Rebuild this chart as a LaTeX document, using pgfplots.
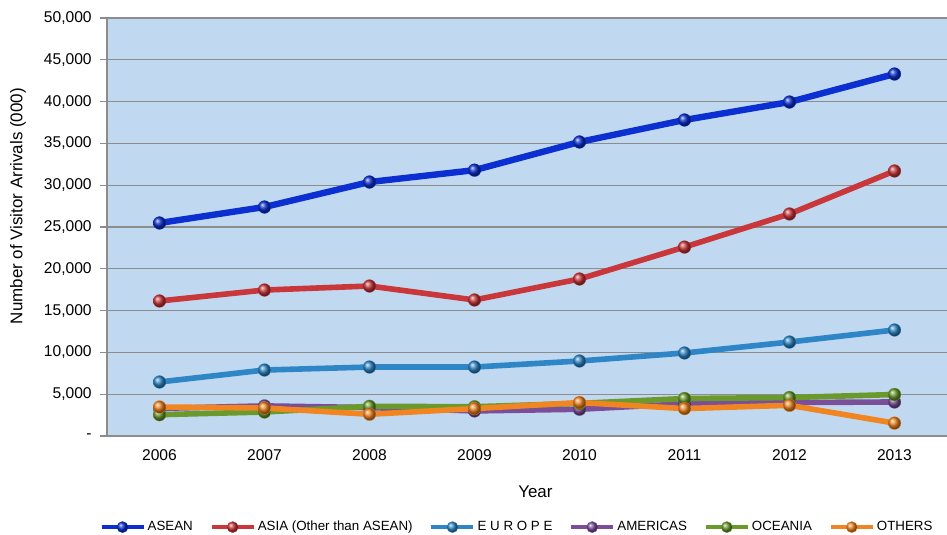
\documentclass[border=0pt]{standalone}
\usepackage{pgfplots}
\pgfplotsset{compat=1.18}
\usepackage{fontspec}
\setmainfont{Liberation Sans}
\definecolor{bgblue}{HTML}{C0D9F0}
\definecolor{cASEAN}{HTML}{0B2FD0}
\definecolor{cASIA}{HTML}{C9373A}
\definecolor{cEUR}{HTML}{2F86C6}
\definecolor{cAME}{HTML}{7B4E9A}
\definecolor{cOCE}{HTML}{6A9A2C}
\definecolor{cOTH}{HTML}{F08522}
\definecolor{gridgray}{HTML}{8C8C8C}
\begin{document}
\begin{tikzpicture}
\useasboundingbox (-80.25pt,-74.25pt) rectangle (630pt,327pt);
\begin{axis}[
  scale only axis,
  width=630pt, height=313.5pt,
  xmin=2005.5, xmax=2013.5,
  ymin=0, ymax=50000,
  scaled y ticks=false,
  axis background/.style={fill=bgblue},
  axis line style={gridgray, line width=1pt},
  axis x line*=bottom,
  axis y line*=left,
  xtick={2006,...,2013},
  xticklabels={2006,2007,2008,2009,2010,2011,2012,2013},
  major x tick style={draw=none},
  extra x ticks={2005.5,2006.5,2007.5,2008.5,2009.5,2010.5,2011.5,2012.5,2013.5},
  extra x tick labels={},
  extra x tick style={major tick length=6pt, tick align=outside, tick style={gridgray, line width=1pt}, grid=none},
  ytick={0,5000,...,50000},
  yticklabels={-,{5,000},{10,000},{15,000},{20,000},{25,000},{30,000},{35,000},{40,000},{45,000},{50,000}},
  ymajorgrids,
  grid style={gridgray, line width=1pt},
  tick align=outside,
  major tick length=5pt,
  ytick style={gridgray, line width=1pt},
  tick label style={font=\fontsize{11.7}{13}\selectfont, text=black},
  xticklabel style={yshift=-2pt},
  yticklabel style={xshift=-3pt},
  xlabel={Year},
  ylabel={Number of Visitor Arrivals (000)},
  label style={font=\fontsize{12.7}{14}\selectfont},
  xlabel style={at={(axis description cs:0.51,-0.1343)}, anchor=center},
  ylabel style={at={(axis description cs:-0.106,0.55)}, anchor=center, rotate=0},
  legend columns=6,
  legend style={at={(0.488,-0.218)}, anchor=center, draw=none, fill=none,
    font=\fontsize{10}{12}\selectfont,
    nodes={inner xsep=1.5pt, inner ysep=1pt},
    /tikz/every odd column/.append style={column sep=0pt},
    /tikz/every even column/.append style={column sep=11pt}},
  legend image code/.code={
    \draw[#1, mark=none, line width=3.2pt] (0pt,0pt) -- (31.5pt,0pt);
    \draw[#1, mark size=4.2pt] plot coordinates {(15.75pt,0pt)};
  },
  every axis plot/.append style={line width=4.2pt, mark=ball, mark size=4.8pt},
]
\addplot[cASEAN, line width=4.8pt, mark options={ball color=cASEAN, line width=0.2pt}] coordinates {
(2006,25480) (2007,27390) (2008,30380) (2009,31800) (2010,35170) (2011,37800) (2012,39950) (2013,43300)};
\addlegendentry{ASEAN}
\addplot[cASIA, mark options={ball color=cASIA, line width=0.2pt}] coordinates {
(2006,16150) (2007,17460) (2008,17940) (2009,16270) (2010,18780) (2011,22600) (2012,26560) (2013,31700)};
\addlegendentry{ASIA (Other than ASEAN)}
\addplot[cEUR, mark options={ball color=cEUR, line width=0.2pt}] coordinates {
(2006,6460) (2007,7890) (2008,8250) (2009,8250) (2010,8970) (2011,9930) (2012,11240) (2013,12680)};
\addlegendentry{E U R O P E}
\addplot[cAME, mark options={ball color=cAME, line width=0.2pt}] coordinates {
(2006,3300) (2007,3600) (2008,3400) (2009,3000) (2010,3200) (2011,3850) (2012,4000) (2013,4070)};
\addlegendentry{AMERICAS}
\addplot[cOCE, mark options={ball color=cOCE, line width=0.2pt}] coordinates {
(2006,2550) (2007,2870) (2008,3550) (2009,3500) (2010,3900) (2011,4480) (2012,4600) (2013,4960)};
\addlegendentry{OCEANIA}
\addplot[cOTH, mark options={ball color=cOTH, line width=0.2pt}] coordinates {
(2006,3470) (2007,3350) (2008,2600) (2009,3280) (2010,4000) (2011,3280) (2012,3670) (2013,1540)};
\addlegendentry{OTHERS}
\end{axis}
\end{tikzpicture}
\end{document}
